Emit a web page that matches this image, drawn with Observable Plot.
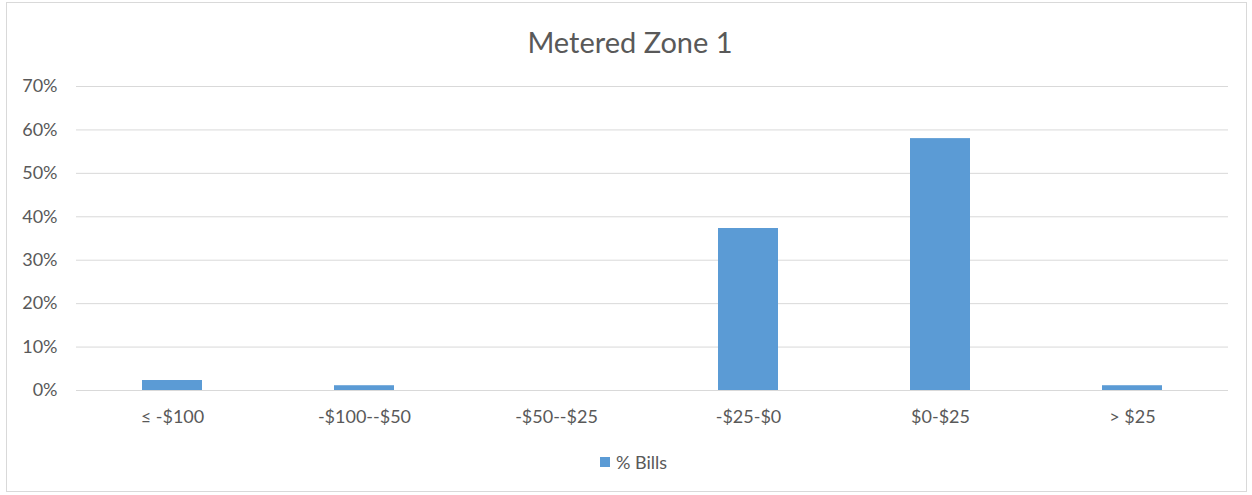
<!DOCTYPE html>
<html>
<head>
<meta charset="utf-8">
<script src="https://cdn.jsdelivr.net/npm/d3@7"></script>
<script src="https://cdn.jsdelivr.net/npm/@observablehq/plot@0.6"></script>
<style>
  html, body { margin: 0; padding: 0; background: #fff; }
  #chart {
    position: relative; width: 1252px; height: 495px; overflow: hidden;
    font-family: Lato, "Open Sans", sans-serif; color: #595959;
  }
  #frame {
    position: absolute; left: 6px; top: 2px; width: 1241px; height: 490px;
    border: 1px solid #d9d9d9; box-sizing: border-box;
  }
  #title {
    position: absolute; left: 4px; width: 1252px; top: 25px; text-align: center;
    font-size: 29px; line-height: 34px;
  }
  #plot { position: absolute; left: 0; top: 0; }
  #legend {
    position: absolute; left: 600px; top: 452px; height: 20px;
    display: flex; align-items: center; gap: 6px;
    font-size: 18px; line-height: 20px;
  }
  #legend .sw { width: 10px; height: 10px; background: #5b9bd5; }
</style>
</head>
<body>
<div id="chart">
  <div id="frame"></div>
  <div id="plot"></div>
  <div id="title">Metered Zone 1</div>
  <div id="legend"><span class="sw"></span><span>% Bills</span></div>
</div>
<script>
// Bill-change bins and share of bills in each
const categories = ["≤ -$100", "-$100--$50", "-$50--$25", "-$25-$0", "$0-$25", "> $25"];
const shareBills = [0.023, 0.011, 0, 0.373, 0.58, 0.011];
const yTicks = [0, 0.1, 0.2, 0.3, 0.4, 0.5, 0.6, 0.7];

const rows = categories.map((c, i) => ({bin: c, share: shareBills[i]}));

const chart = Plot.plot({
  width: 1252,
  height: 495,
  marginLeft: 76,
  marginRight: 24,
  marginTop: 86,
  marginBottom: 105,
  style: {fontFamily: "Lato, 'Open Sans', sans-serif", fontSize: "18px", color: "#595959", background: "transparent"},
  x: {domain: categories, paddingInner: 0.6875, paddingOuter: 0.34375, label: null},
  y: {domain: [0, 0.7], label: null},
  marks: [
    Plot.gridY(yTicks, {stroke: "#d9d9d9", strokeOpacity: 1, strokeWidth: 1}),
    Plot.axisY(yTicks, {tickFormat: d3.format(".0%"), tickSize: 0, tickPadding: 19, fontSize: 18, fill: "#595959"}),
    Plot.axisX({tickSize: 0, tickPadding: 20, fontSize: 18, fill: "#595959"}),
    Plot.barY(rows, {x: "bin", y: "share", fill: "#5b9bd5"})
  ]
});
document.getElementById("plot").appendChild(chart);
</script>
</body>
</html>
